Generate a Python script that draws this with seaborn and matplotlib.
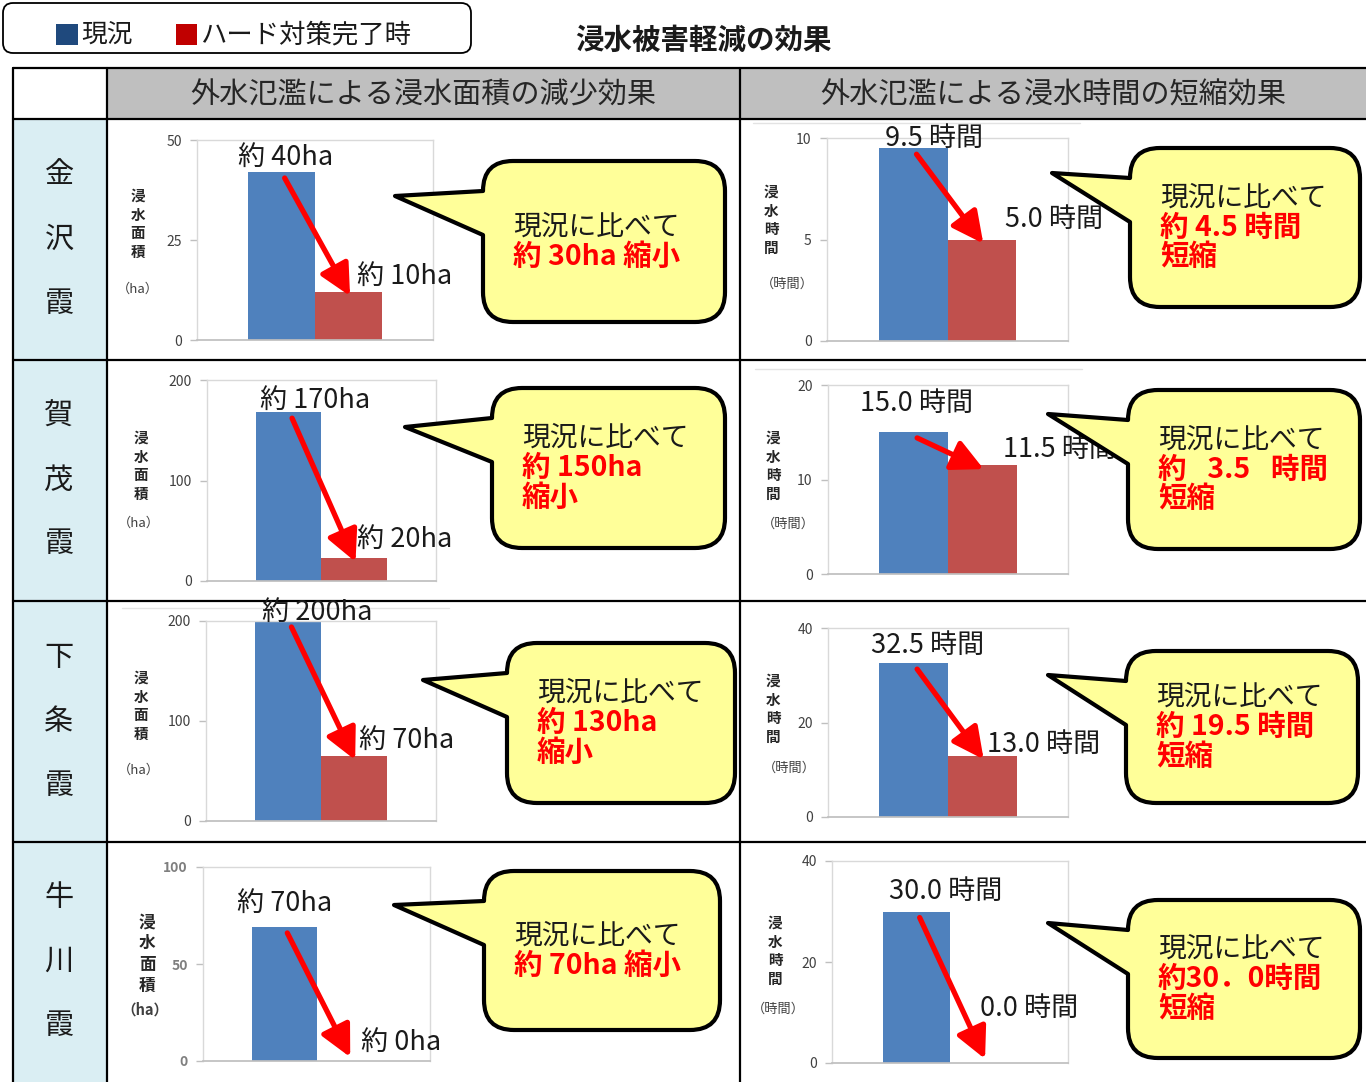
import pandas as pd
import seaborn as sns
import matplotlib.pyplot as plt
from matplotlib.path import Path
from matplotlib.patches import PathPatch, Rectangle, FancyBboxPatch

# ---- data ----
sites = ['金沢霞', '賀茂霞', '下条霞', '牛川霞']
scenarios = ['現況', 'ハード対策完了時']
area_now = [42, 168, 200, 69]
area_after = [12, 23, 65, 0]
area_ymax = [50, 200, 200, 100]
hours_now = [9.5, 15.0, 32.5, 30.0]
hours_after = [5.0, 11.5, 13.0, 0.0]
hours_ymax = [10, 20, 40, 40]
area_top_labels = ['約 40ha', '約 170ha', '約 200ha', '約 70ha']
area_low_labels = ['約 10ha', '約 20ha', '約 70ha', '約 0ha']
hours_top_labels = ['9.5 時間', '15.0 時間', '32.5 時間', '30.0 時間']
hours_low_labels = ['5.0 時間', '11.5 時間', '13.0 時間', '0.0 時間']
area_callouts = [['約 30ha 縮小'], ['約 150ha', '縮小'], ['約 130ha', '縮小'], ['約 70ha 縮小']]
hours_callouts = [['約 4.5 時間', '短縮'], ['約\u2002 3.5\u2002 時間', '短縮'], ['約 19.5 時間', '短縮'],
                  ['約30．0時間', '短縮']]
headers = ['外水氾濫による浸水面積の減少効果', '外水氾濫による浸水時間の短縮効果']
title = '浸水被害軽減の効果'

BLUE, RED = '#4f81bd', '#c0504d'

# ---- layout (pixels) ----
W, H = 1366, 1082
col_x = [13, 107, 740, 1366]
row_y = [68, 119, 360, 601, 842, 1082]
area_boxes = [(197, 433, 140, 340), (207, 436, 380, 581), (206, 436, 621, 821), (203, 430, 867, 1061)]
hours_boxes = [(827, 1068, 138, 341), (828, 1068, 385, 574), (828, 1068, 628, 817), (832, 1068, 861, 1063)]
area_bubbles = [(483, 161, 725, 322, 395, 196), (492, 388, 725, 548, 405, 427),
                (507, 643, 735, 803, 423, 680), (484, 871, 720, 1030, 394, 905)]
hours_bubbles = [(1130, 148, 1360, 307, 1052, 173), (1128, 390, 1360, 549, 1048, 414),
                 (1126, 651, 1358, 803, 1048, 675), (1128, 900, 1360, 1058, 1048, 923)]
# (top label x, top label lift px, low label x, low label lift px)
area_lbl = [(0.06, 15, 1.13, 16), (0.4, 12, 1.05, 18), (0.44, 9, 1.08, 16), (0.0, 24, 1.19, 19)]
hours_lbl = [(0.3, 10, 1.34, 20), (0.04, 29, 1.30, 16), (0.2, 18, 1.07, 11), (0.44, 20, 0.95, 55)]
# y-label (chars x, chars y, paren x, paren y)
area_ylab = [(138, 224, 138, 289), (141, 466, 139, 523), (141, 706, 139, 770), (147, 954, 145, 1010)]
hours_ylab = [(771, 220, 787, 284), (773, 466, 788, 524), (773, 709, 789, 768), (775, 951, 778, 1009)]
# faint chart-area edges left over from the source charts
faint_lines = [(753, 1080, 123), (755, 1082, 369), (122, 449, 608)]

sns.set_theme(style='white')
plt.rcParams['font.family'] = ['Noto Sans CJK JP', 'DejaVu Sans']

fig = plt.figure(figsize=(W / 100, H / 100), dpi=100)

bg = fig.add_axes([0, 0, 1, 1], zorder=0)
bg.set_xlim(0, W)
bg.set_ylim(H, 0)
bg.axis('off')

fg = fig.add_axes([0, 0, 1, 1], zorder=3)
fg.set_xlim(0, W)
fg.set_ylim(H, 0)
fg.axis('off')
fg.patch.set_visible(False)

# table fills
bg.add_patch(Rectangle((col_x[1], row_y[0]), col_x[3] - col_x[1], row_y[1] - row_y[0], fc='#bfbfbf', ec='none'))
for i in range(4):
    bg.add_patch(Rectangle((col_x[0], row_y[i + 1]), col_x[1] - col_x[0], row_y[i + 2] - row_y[i + 1],
                           fc='#daeef3', ec='none'))
for xa, xb, y in faint_lines:
    bg.plot([xa, xb], [y, y], color='#e3e3e3', lw=1)
# table lines
for y in row_y[:-1]:
    bg.plot([col_x[0], col_x[3]], [y, y], color='black', lw=1.6)
for x in col_x[:-1]:
    bg.plot([x, x], [row_y[0], row_y[-1]], color='black', lw=1.6)

for j, h in enumerate(headers):
    bg.text((col_x[j + 1] + col_x[j + 2]) / 2, (row_y[0] + row_y[1]) / 2 + 2, h,
            ha='center', va='center', fontsize=21, color='#262626')

for i, s in enumerate(sites):
    cy = (row_y[i + 1] + row_y[i + 2]) / 2
    for k, ch in enumerate(s):
        bg.text(59, cy + (k - 1) * 64, ch, ha='center', va='center', fontsize=21, color='#1a1a1a')

# legend + title
fg.add_patch(FancyBboxPatch((3, 3), 468, 50, boxstyle='round,pad=0,rounding_size=10',
                            fc='white', ec='black', lw=1.3))
fg.add_patch(Rectangle((56, 24), 22, 21, fc='#1f497d', ec='none'))
fg.add_patch(Rectangle((176, 24), 21, 21, fc='#c00000', ec='none'))
fg.text(81, 35, scenarios[0], ha='left', va='center', fontsize=18.5, color='#1a1a1a')
fg.text(200, 35, scenarios[1], ha='left', va='center', fontsize=19, color='#1a1a1a')
fg.text(703, 41, title, ha='center', va='center', fontsize=20.5, fontweight='bold', color='#1a1a1a')


def bubble(l, t, r, b, tx, ty, rad=30, gap=44):
    verts = [(l, t + rad + gap), (l, b - rad), (l, b), (l + rad, b), (r - rad, b), (r, b), (r, b - rad),
             (r, t + rad), (r, t), (r - rad, t), (l + rad, t), (l, t), (l, t + rad), (tx, ty),
             (l, t + rad + gap)]
    codes = [Path.MOVETO, Path.LINETO, Path.CURVE3, Path.CURVE3, Path.LINETO, Path.CURVE3, Path.CURVE3,
             Path.LINETO, Path.CURVE3, Path.CURVE3, Path.LINETO, Path.CURVE3, Path.CURVE3, Path.LINETO,
             Path.CLOSEPOLY]
    fg.add_patch(PathPatch(Path(verts, codes), fc='#ffff99', ec='black', lw=3, joinstyle='round'))


def draw_panel(box, now, after, ymax, top_lbl, low_lbl, lbl, ylab, chars, paren, bubble_box, lines, bold_ticks):
    x0, x1, yt, yb = box
    ax = fig.add_axes([x0 / W, 1 - yb / H, (x1 - x0) / W, (yb - yt) / H], zorder=1)
    df = pd.DataFrame({'scenario': scenarios, 'value': [now, after]})
    sns.barplot(data=df, x='scenario', y='value', hue='scenario', palette=[BLUE, RED], width=1,
                saturation=1, linewidth=0, legend=False, ax=ax)
    ax.set_xlim(-1.25, 2.25)
    ax.set_ylim(0, ymax)
    ax.set_facecolor('none')
    ax.set_xticks([])
    ax.set_xlabel('')
    ax.set_ylabel('')
    ax.set_yticks([0, ymax / 2, ymax])
    ax.set_yticklabels([f'{v:g}' for v in [0, ymax / 2, ymax]])
    ax.tick_params(axis='y', left=True, length=5, width=1, color='#bfbfbf', pad=6,
                   labelsize=10, labelcolor='#7f7f7f' if bold_ticks else '#404040')
    if bold_ticks:
        for t in ax.get_yticklabels():
            t.set_fontweight('bold')
    for side in ['top', 'right', 'left']:
        ax.spines[side].set_color('#d9d9d9')
        ax.spines[side].set_linewidth(1)
    ax.spines['bottom'].set_color('#bfbfbf')

    # value labels
    ax.annotate(top_lbl, (lbl[0], now), xytext=(0, lbl[1] * 0.72), textcoords='offset points',
                ha='center', va='center', fontsize=19.5, color='#1a1a1a', annotation_clip=False)
    ax.annotate(low_lbl, (lbl[2], after), xytext=(0, lbl[3] * 0.72), textcoords='offset points',
                ha='left', va='center', fontsize=19.5, color='#1a1a1a', annotation_clip=False)
    # arrow
    end_y = after - 0.02 * ymax if after > 0 else 0.02 * ymax
    ax.annotate('', xy=(1.02, end_y), xytext=(0.05, now - 0.03 * ymax), annotation_clip=False,
                arrowprops=dict(arrowstyle='-|>,head_length=1.9,head_width=0.95', lw=3.8, color='#ff0000',
                                shrinkA=0, shrinkB=0, mutation_scale=10))

    # y label
    fg.text(ylab[0], ylab[1], '\n'.join(chars), ha='center', va='center', fontsize=12 if bold_ticks else 10.5,
            fontweight='bold', linespacing=1.22, color='#262626')
    fg.text(ylab[2], ylab[3], paren, ha='center', va='center', fontsize=10.5 if bold_ticks else 9.5,
            fontweight='bold' if bold_ticks else 'normal', color='#404040')

    # callout
    l, t, r, b, tx, ty = bubble_box
    bubble(l, t, r, b, tx, ty)
    all_lines = ['現況に比べて'] + lines
    n = len(all_lines)
    cy = (t + b) / 2
    for k, txt in enumerate(all_lines):
        y = cy + (k - (n - 1) / 2) * 30
        fg.text(l + 30, y, txt, ha='left', va='center', fontsize=20 if k == 0 else 20.5,
                color='#1a1a1a' if k == 0 else '#ff0000', fontweight='normal' if k == 0 else 'bold')


for i in range(4):
    draw_panel(area_boxes[i], area_now[i], area_after[i], area_ymax[i], area_top_labels[i],
               area_low_labels[i], area_lbl[i], area_ylab[i], '浸水面積', '（ha）',
               area_bubbles[i], area_callouts[i], i == 3)
    draw_panel(hours_boxes[i], hours_now[i], hours_after[i], hours_ymax[i], hours_top_labels[i],
               hours_low_labels[i], hours_lbl[i], hours_ylab[i], '浸水時間', '（時間）',
               hours_bubbles[i], hours_callouts[i], False)

plt.savefig('out.png', dpi=100)
